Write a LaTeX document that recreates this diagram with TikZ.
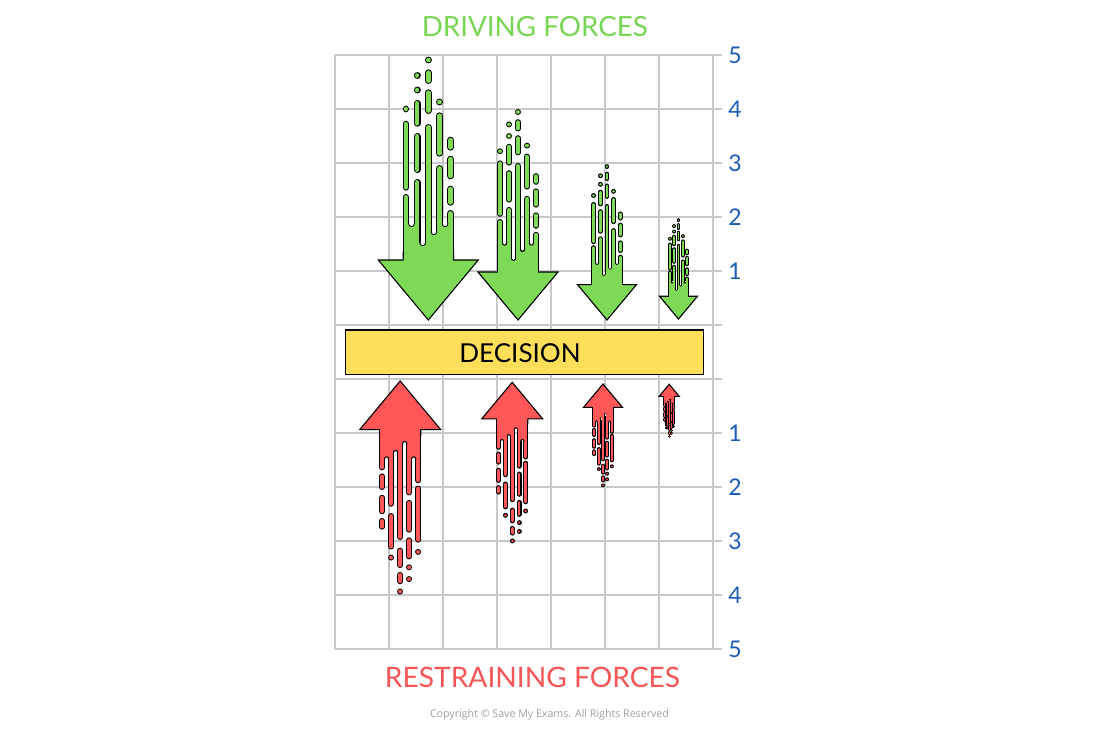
\documentclass[tikz,border=0pt]{standalone}
\usepackage{fontspec}
\setmainfont{Lato}
\newfontfamily\copyfont{Open Sans}
\usepackage{graphicx}
\definecolor{fgreen}{RGB}{126,217,87}
\definecolor{fred}{RGB}{255,87,87}
\definecolor{tgreen}{RGB}{120,214,84}
\definecolor{tred}{RGB}{246,86,86}
\definecolor{decyellow}{RGB}{255,222,89}
\definecolor{numblue}{RGB}{26,92,184}
\definecolor{gridgray}{RGB}{200,200,200}
\definecolor{copygray}{RGB}{160,160,160}
\tikzset{
  gridline/.style={draw=gridgray, line width=1.3pt},
  numlab/.style={text=numblue, font=\fontsize{23}{26}\selectfont, inner sep=0pt},
  titlelab/.style={inner sep=0pt},
}
% streak segments: x / from / to (local units, tip at origin, shaft upward)
\def\streaklist{-22.4/64/122.6, -22.4/132.7/195.9, -22.4/211/211.01,
 -11.2/64/137.6, -11.2/150.4/183.6, -11.2/196.7/216.6, -11.2/230/230.01, -11.2/244.5/244.51,
 0/64/192.6, 0/209.4/227.3, 0/239.4/247.3, 0/260/260.01,
 11.2/64/151.6, 11.2/166.7/204.3, 11.2/218/218.01,
 22.4/64/106.6, 22.4/117.7/130.9, 22.4/144.1/160.9, 22.4/172.7/179.9}
\def\slitlist{-22.4/-11.2/96.2, -11.2/0/77.2, 0/11.2/88.2, 11.2/22.4/96.2}
% #1 tip x, #2 tip y, #3 scale, #4 direction (1 down, -1 up), #5 colour
\newcommand{\forcearrow}[5]{%
 \begin{scope}[shift={(#1,#2)}, xscale={(#4)*#3}, yscale={-(#4)*#3}]
  \pgfmathsetmacro\wi{4.6*#3}
  \pgfmathsetmacro\wo{4.6*#3+2.2}
  \pgfmathsetmacro\sh{24.7+0.55/#3}
  \pgfmathsetmacro\hg{max(3.3*#3-1.1,0)/#3}
  \pgfmathsetmacro\ro{\hg+1.1/#3}
  \filldraw[fill=#5, draw=black, line width=1.1pt, line join=miter]
    (-\sh,68) -- (-\sh,60) -- (-50,60) -- (0,0) -- (50,60) -- (\sh,60) -- (\sh,68) -- cycle;
  \foreach \x/\a/\b in \streaklist {
    \draw[black, line width=\wo pt, line cap=round] (\x,\a) -- (\x,\b);
  }
  \fill[#5] (-24.7,55) rectangle (24.7,68);
  \foreach \xa/\xb/\d in \slitlist {
    \fill[#5] (\xa,62) rectangle (\xb,\d);
  }
  \foreach \x/\a/\b in \streaklist {
    \draw[#5, line width=\wi pt, line cap=round] (\x,\a) -- (\x,\b);
  }
  \foreach \xa/\xb/\d in \slitlist {
    \pgfmathsetmacro\xm{(\xa+\xb)/2}
    \fill[black] (\xm,\d) circle[radius=\ro];
    \fill[white] (\xm,\d) circle[radius=\hg];
    \fill[white] (\xm-\hg,\d) rectangle (\xm+\hg,\d+\ro+0.3);
  }
 \end{scope}}
\begin{document}
\begin{tikzpicture}[x=1pt,y=-1pt]
\useasboundingbox (0,0) rectangle (1100,731);
\fill[white] (0,0) rectangle (1100,731);
% grid
\foreach \i in {0,...,7} {
  \draw[gridline] (335+54*\i,55) -- (335+54*\i,649);
}
\foreach \j in {0,...,11} {
  \draw[gridline] (335,55+54*\j) -- (722,55+54*\j);
}
% scale numbers
\foreach \j/\t in {0/5,1/4,2/3,3/2,4/1,7/1,8/2,9/3,10/4,11/5} {
  \node[numlab] (n\j) at (735,55+54*\j) {\t};
}
% driving forces (green, down)
\forcearrow{428.3}{320}{1}{1}{fgreen}
\forcearrow{518}{320}{0.8}{1}{fgreen}
\forcearrow{607}{320}{0.59}{1}{fgreen}
\forcearrow{678.5}{319}{0.38}{1}{fgreen}
% restraining forces (red, up)
\forcearrow{400.2}{381}{0.81}{-1}{fred}
\forcearrow{512.2}{382.3}{0.61}{-1}{fred}
\forcearrow{603}{384}{0.39}{-1}{fred}
\forcearrow{669.2}{384.3}{0.2}{-1}{fred}
% decision bar
\node[draw=black, fill=decyellow, line width=1.2pt, minimum width=357.6pt, minimum height=44.3pt, inner sep=0pt] (decision) at (524.5,352.2) {};
\node[titlelab] (decisiontext) at (520,352.8) {\resizebox{121.4pt}{!}{DECISION}};
% titles
\node[titlelab, text=tgreen] (driving) at (534.8,26.7) {\resizebox{226pt}{!}{DRIVING FORCES}};
\node[titlelab, text=tred] (restraining) at (532.5,677.3) {\resizebox{295pt}{!}{RESTRAINING FORCES}};
\node[inner sep=0pt, anchor=base, text=copygray] (copyright) at (549.5,717.5) {\resizebox{239pt}{!}{\copyfont Copyright © Save My Exams. All Rights Reserved}};
\end{tikzpicture}
\end{document}
